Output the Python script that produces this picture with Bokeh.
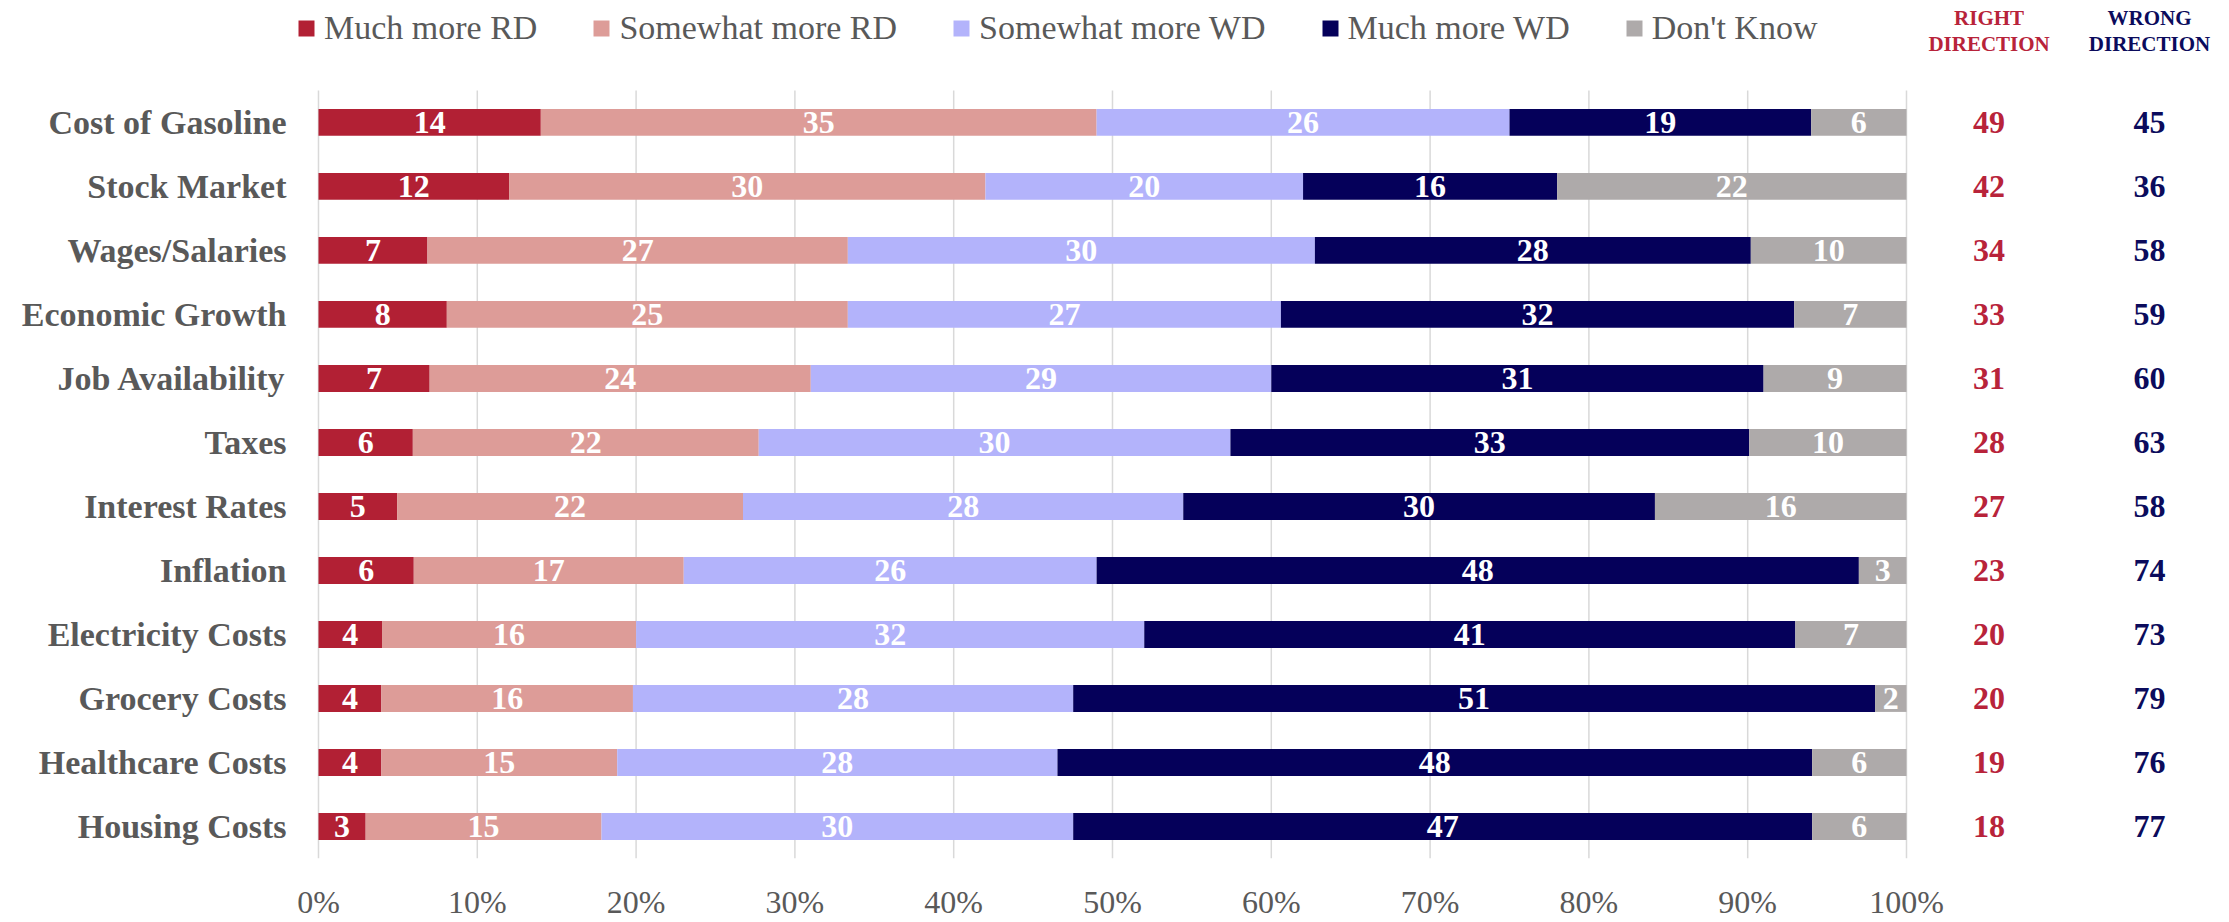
from bokeh.plotting import figure
from bokeh.models import (ColumnDataSource, Range1d, FixedTicker,
                          PrintfTickFormatter, Legend, LegendItem)
from bokeh.core.properties import value
from bokeh.embed import file_html
from bokeh.resources import INLINE

# ---------------- data ----------------
categories = ["Cost of Gasoline", "Stock Market", "Wages/Salaries", "Economic Growth",
              "Job Availability", "Taxes", "Interest Rates", "Inflation",
              "Electricity Costs", "Grocery Costs", "Healthcare Costs", "Housing Costs"]
much_more_rd = [14, 12, 7, 8, 7, 6, 5, 6, 4, 4, 4, 3]
somewhat_more_rd = [35, 30, 27, 25, 24, 22, 22, 17, 16, 16, 15, 15]
somewhat_more_wd = [26, 20, 30, 27, 29, 30, 28, 26, 32, 28, 28, 30]
much_more_wd = [19, 16, 28, 32, 31, 33, 30, 48, 41, 51, 48, 47]
dont_know = [6, 22, 10, 7, 9, 10, 16, 3, 7, 2, 6, 6]
right_direction = [49, 42, 34, 33, 31, 28, 27, 23, 20, 20, 19, 18]
wrong_direction = [45, 36, 58, 59, 60, 63, 58, 74, 73, 79, 76, 77]
series_names = ["Much more RD", "Somewhat more RD", "Somewhat more WD", "Much more WD", "Don't Know"]
x_ticks = [0, 10, 20, 30, 40, 50, 60, 70, 80, 90, 100]

# ---------------- styles / layout ----------------
colors = ["#b22034", "#dd9c98", "#b3b3fb", "#05005a", "#aeaaaa"]
RD_COLOR = "#b8233a"
WD_COLOR = "#0b0b5c"
GRAY_TEXT = "#595959"
GRID_COLOR = "#d9d9d9"
FONT = "Liberation Serif"
RD_COL_X = 105.2
WD_COL_X = 115.3
HEADER_Y1 = 12.63
HEADER_Y2 = 12.22

n = len(categories)
y_pos = [n - 1 - j for j in range(n)]          # top category highest

series = [much_more_rd, somewhat_more_rd, somewhat_more_wd, much_more_wd, dont_know]
keys = ["s%d" % i for i in range(len(series))]

totals = [sum(vals) for vals in zip(*series)]
data = {"y": y_pos}
for k, vals in zip(keys, series):
    data[k] = [v / t * 100.0 for v, t in zip(vals, totals)]
src = ColumnDataSource(data)

# segment-centre label positions
lab_x, lab_y, lab_t = [], [], []
for j in range(n):
    left = 0.0
    for k, vals in zip(keys, series):
        w = data[k][j]
        lab_x.append(left + w / 2.0)
        lab_y.append(y_pos[j])
        lab_t.append(str(vals[j]))
        left += w
lab_src = ColumnDataSource(dict(x=lab_x, y=lab_y, t=lab_t))

p = figure(x_range=Range1d(-1.385, 120.34), y_range=Range1d(-0.5, 12.9045),
           width=2229, height=922, output_backend="svg", toolbar_location=None,
           min_border_left=296, min_border_right=0, min_border_top=0, min_border_bottom=63)
p.outline_line_color = None
p.background_fill_color = "white"
p.border_fill_color = "white"

# vertical gridlines over the bar area only
p.segment(x0=x_ticks, x1=x_ticks, y0=[-0.5] * len(x_ticks), y1=[n - 0.5] * len(x_ticks),
          line_color=GRID_COLOR, line_width=1.5)

renderers = p.hbar_stack(keys, y="y", height=0.42, color=colors, source=src, line_width=0)

p.text(x="x", y="y", text="t", source=lab_src, text_align="center", text_baseline="middle",
       text_color="white", text_font=value(FONT), text_font_style="bold", text_font_size="32px")

col_src = ColumnDataSource(dict(y=y_pos,
                                rd=[str(v) for v in right_direction],
                                wd=[str(v) for v in wrong_direction],
                                rx=[RD_COL_X] * n, wx=[WD_COL_X] * n))
p.text(x="rx", y="y", text="rd", source=col_src, text_align="center", text_baseline="middle",
       text_color=RD_COLOR, text_font=value(FONT), text_font_style="bold", text_font_size="32px")
p.text(x="wx", y="y", text="wd", source=col_src, text_align="center", text_baseline="middle",
       text_color=WD_COLOR, text_font=value(FONT), text_font_style="bold", text_font_size="32px")

hdr_src = ColumnDataSource(dict(x=[RD_COL_X, RD_COL_X, WD_COL_X, WD_COL_X],
                                y=[HEADER_Y1, HEADER_Y2, HEADER_Y1, HEADER_Y2],
                                t=["RIGHT", "DIRECTION", "WRONG", "DIRECTION"],
                                c=[RD_COLOR, RD_COLOR, WD_COLOR, WD_COLOR]))
p.text(x="x", y="y", text="t", text_color="c", source=hdr_src, text_align="center",
       text_baseline="middle", text_font=value(FONT), text_font_style="bold", text_font_size="21px")

# axes & grid
p.xgrid.grid_line_color = None
p.ygrid.grid_line_color = None
p.xaxis.ticker = FixedTicker(ticks=x_ticks)
p.xaxis.formatter = PrintfTickFormatter(format="%d%%")
p.xaxis.axis_line_color = None
p.xaxis.major_tick_line_color = None
p.xaxis.minor_tick_line_color = None
p.xaxis.major_label_text_font = FONT
p.xaxis.major_label_text_font_size = "32px"
p.xaxis.major_label_text_color = GRAY_TEXT
p.xaxis.major_label_standoff = 19

p.yaxis.ticker = FixedTicker(ticks=y_pos)
p.yaxis.major_label_overrides = {y: c for y, c in zip(y_pos, categories)}
p.yaxis.axis_line_color = None
p.yaxis.major_tick_line_color = None
p.yaxis.minor_tick_line_color = None
p.yaxis.major_tick_out = 0
p.yaxis.major_label_text_font = FONT
p.yaxis.major_label_text_font_style = "bold"
p.yaxis.major_label_text_font_size = "34px"
p.yaxis.major_label_text_color = GRAY_TEXT
p.yaxis.major_label_standoff = 10

legend = Legend(items=[LegendItem(label=nm, renderers=[r]) for nm, r in zip(series_names, renderers)],
                orientation="horizontal", location=(0, 811), padding=0, margin=0,
                spacing=54, label_standoff=8, glyph_width=20, glyph_height=20,
                border_line_color=None, background_fill_alpha=0,
                label_text_font=FONT, label_text_font_size="34px", label_text_color=GRAY_TEXT)
p.add_layout(legend, "center")

open("out.html", "w").write(file_html(p, INLINE))
